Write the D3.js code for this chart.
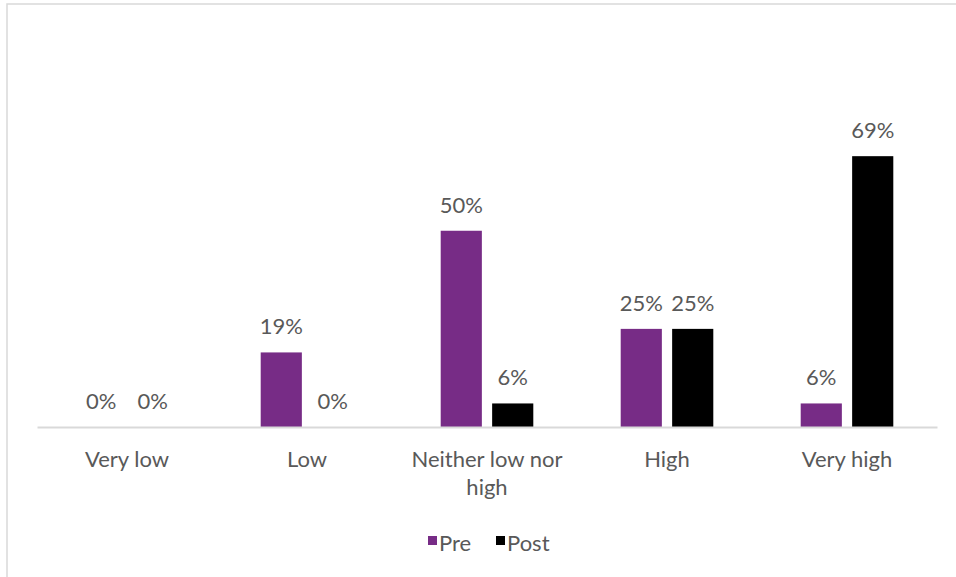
<!DOCTYPE html>
<html>
<head>
<meta charset="utf-8">
<script src="https://cdn.jsdelivr.net/npm/d3@7"></script>
<style>
  html, body { margin: 0; padding: 0; background: #fff; }
  svg { display: block; }
  text { font-family: Lato, "Open Sans", sans-serif; fill: #595959; }
</style>
</head>
<body>
<svg id="chart" width="956" height="577"></svg>
<script>
// Response categories along the x axis
const categories = ["Very low", "Low", "Neither low nor high", "High", "Very high"];
// Share of respondents (%) in each category
const preValues = [0, 19, 50, 25, 6];
const postValues = [0, 0, 6, 25, 69];
const seriesNames = ["Pre", "Post"];
const seriesColors = ["#772C86", "#000000"];

const svg = d3.select("#chart");
const W = 956, H = 577;
const FONT = 22;

// chart area frame
svg.append("rect")
  .attr("x", 7).attr("y", 4)
  .attr("width", W + 10).attr("height", H + 10)
  .attr("fill", "#fff")
  .attr("stroke", "#d9d9d9")
  .attr("stroke-width", 1.5);

const plot = { left: 37, right: 937, top: 113, bottom: 427 };

const x = d3.scaleBand().domain(categories).range([plot.left, plot.right]).padding(0);
const xs = d3.scaleBand().domain(seriesNames)
  .range([x.bandwidth() / 2 - 46.3, x.bandwidth() / 2 + 46.3])
  .paddingInner(0.2);
const y = d3.scaleLinear().domain([0, 80]).range([plot.bottom, plot.top]);

const rows = categories.map((c, i) => ({
  cat: c,
  vals: [
    { s: "Pre", v: preValues[i], color: seriesColors[0] },
    { s: "Post", v: postValues[i], color: seriesColors[1] }
  ]
}));

const groups = svg.append("g").selectAll("g")
  .data(rows).join("g")
  .attr("transform", d => `translate(${x(d.cat)},0)`);

groups.selectAll("rect")
  .data(d => d.vals).join("rect")
  .attr("x", d => xs(d.s))
  .attr("width", xs.bandwidth())
  .attr("y", d => y(d.v))
  .attr("height", d => y(0) - y(d.v))
  .attr("fill", d => d.color);

groups.selectAll("text.val")
  .data(d => d.vals).join("text")
  .attr("class", "val")
  .attr("x", d => xs(d.s) + xs.bandwidth() / 2)
  .attr("y", d => y(d.v) - 18)
  .attr("text-anchor", "middle")
  .attr("font-size", FONT)
  .text(d => d.v + "%");

// category axis
const xAxis = svg.append("g")
  .attr("transform", `translate(0,${plot.bottom})`)
  .call(d3.axisBottom(x).tickSize(0).tickPadding(0));
xAxis.select(".domain").attr("stroke", "#d9d9d9").attr("stroke-width", 2);
xAxis.selectAll(".tick text")
  .attr("font-size", FONT)
  .attr("font-family", "Lato, 'Open Sans', sans-serif")
  .attr("fill", "#595959")
  .attr("y", 40)
  .attr("dy", 0)
  .each(function () { wrap(d3.select(this), 165); });

function wrap(t, width) {
  const words = t.text().split(/\s+/);
  const x0 = t.attr("x") || 0, y0 = +t.attr("y");
  t.text(null);
  let line = [];
  let ts = t.append("tspan").attr("x", x0).attr("y", y0);
  let n = 0;
  words.forEach(w => {
    line.push(w);
    ts.text(line.join(" "));
    if (ts.node().getComputedTextLength() > width && line.length > 1) {
      line.pop();
      ts.text(line.join(" "));
      line = [w];
      n++;
      ts = t.append("tspan").attr("x", x0).attr("y", y0 + n * 28).text(w);
    }
  });
}

// legend
const legend = svg.append("g").attr("transform", "translate(428,536)");
const legendX = [0, 68];
seriesNames.forEach((s, i) => {
  const g = legend.append("g").attr("transform", `translate(${legendX[i]},0)`);
  g.append("rect").attr("width", 9).attr("height", 9).attr("fill", seriesColors[i]);
  g.append("text").attr("x", 11).attr("y", 15).attr("font-size", FONT).text(s);
});
</script>
</body>
</html>
